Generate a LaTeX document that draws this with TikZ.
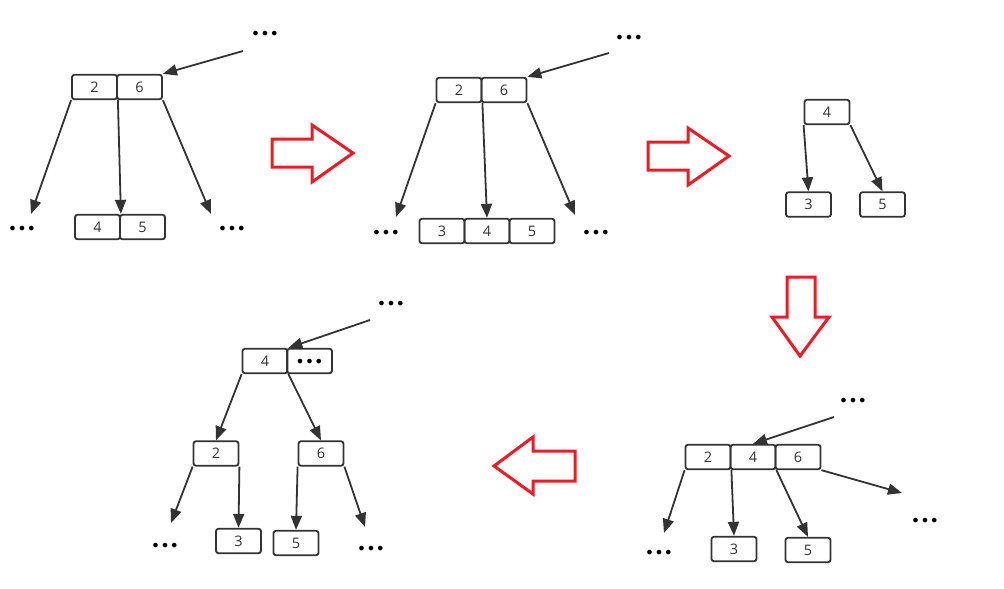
\documentclass[tikz,border=0pt]{standalone}
\usepackage{fontspec}
\setmainfont{Open Sans}
\newfontfamily\dotfont{DejaVu Sans}
\usepackage{tikz}
\usetikzlibrary{arrows.meta}
\definecolor{ink}{HTML}{333333}
\definecolor{bigred}{HTML}{ED1C24}
\newcommand{\etcdots}{{\fontsize{16}{16}\dotfont •••}}
\tikzset{
  key/.style={draw=ink, line width=1.8pt, rounded corners=2.5pt, minimum width=45pt,
    minimum height=24.5pt, inner sep=0pt, text=ink, font=\fontsize{14.5}{16}\selectfont},
  etc/.style={inner sep=0pt, yshift=-2.5pt},
  ptr/.style={draw=ink, line width=1.8pt, -{Triangle[length=14pt,width=11pt]}},
  turn/.style={draw=bigred, line width=3pt, line join=miter}
}

\begin{document}
\begin{tikzpicture}[x=1pt, y=-1pt]
    \useasboundingbox (0,0) rectangle (1004,589);
    % Step 1: node 2|6 with child 4|5
    \node[key] (a2) at (94.5,87) {2};
    \node[key] (a6) at (139.5,87) {6};
    \node[key] (a4) at (97.5,227) {4};
    \node[key] (a5) at (142.5,227) {5};
    \node[etc] (at) at (265,33) {\etcdots};
    \node[etc] (al) at (22,228) {\etcdots};
    \node[etc] (ar) at (232,228) {\etcdots};
    \coordinate (atf) at (243,51);
    \coordinate (alf) at (31,214);
    \coordinate (arf) at (211,214);
    \draw[ptr] (atf) -- (a6.north east);
    \draw[ptr] (a2.south west) -- (alf);
    \draw[ptr] (a2.south east) -- (a4.north east);
    \draw[ptr] (a6.south east) -- (arf);

    % Step 2: insert 3, leaf overflows
    \node[key] (b2) at (459,90) {2};
    \node[key] (b6) at (504,90) {6};
    \node[key] (b3) at (442,231) {3};
    \node[key] (b4) at (487,231) {4};
    \node[key] (b5) at (532,231) {5};
    \node[etc] (bt) at (629,37) {\etcdots};
    \node[etc] (bl) at (386,232) {\etcdots};
    \node[etc] (br) at (596,232) {\etcdots};
    \coordinate (btf) at (609,53);
    \coordinate (blf) at (396,217);
    \coordinate (brf) at (575,215);
    \draw[ptr] (btf) -- (b6.north east);
    \draw[ptr] (b2.south west) -- (blf);
    \draw[ptr] (b2.south east) -- (b4.north);
    \draw[ptr] (b6.south east) -- (brf);

    % Step 3: split
    \node[key] (c4) at (827,112) {4};
    \node[key] (c3) at (808.5,204.5) {3};
    \node[key] (c5) at (882.5,204.5) {5};
    \draw[ptr] (c4.south west) -- (c3.north);
    \draw[ptr] (c4.south east) -- (c5.north);

    % Step 4: 4 goes up into the parent
    \node[key] (d2) at (708,457) {2};
    \node[key] (d4) at (753,457) {4};
    \node[key] (d6) at (798,457) {6};
    \node[key] (d3) at (734,549) {3};
    \node[key] (d5) at (808,550) {5};
    \node[etc] (dt) at (853,400) {\etcdots};
    \node[etc] (dl) at (659,552) {\etcdots};
    \node[etc] (dr) at (925,520) {\etcdots};
    \coordinate (dtf) at (834,417);
    \coordinate (dlf) at (664,533);
    \coordinate (drf) at (902,493);
    \draw[ptr] (dtf) -- (d4.north);
    \draw[ptr] (d2.south west) -- (dlf);
    \draw[ptr] (d2.south east) -- (d3.north);
    \draw[ptr] (d4.south east) -- (d5.north);
    \draw[ptr] (d6.south east) -- (drf);

    % Step 5: parent splits too
    \node[key] (e4) at (265,361) {4};
    \node[key] (ed) at (309.5,361) {};
    \node[etc] (edd) at (ed) {\etcdots};
    \node[key] (e2) at (216,453.5) {2};
    \node[key] (e6) at (321,453.5) {6};
    \node[key] (e3) at (238.5,541) {3};
    \node[key] (e5) at (296,543) {5};
    \node[etc] (et) at (391,303) {\etcdots};
    \node[etc] (el) at (165,545) {\etcdots};
    \node[etc] (er) at (371,548) {\etcdots};
    \coordinate (etf) at (370,320);
    \coordinate (elf) at (171,523);
    \coordinate (erf) at (365,527);
    \draw[ptr] (etf) -- (e4.north east);
    \draw[ptr] (e4.south west) -- (e2.north);
    \draw[ptr] (e4.south east) -- (e6.north);
    \draw[ptr] (e2.south west) -- (elf);
    \draw[ptr] (e2.south east) -- (e3.north);
    \draw[ptr] (e6.south west) -- (e5.north);
    \draw[ptr] (e6.south east) -- (erf);

    % Big hollow arrows between steps
    \draw[turn] (272,139) -- (312,139) -- (312,125) -- (353,153) -- (312,182) -- (312,167) -- (272,167) -- cycle;
    \draw[turn] (648,142) -- (688,142) -- (688,128) -- (729,156) -- (688,185) -- (688,170) -- (648,170) -- cycle;
    \draw[turn] (787,277) -- (815,277) -- (815,317) -- (829,317) -- (800,356) -- (772,317) -- (787,317) -- cycle;
    \draw[turn] (575,451) -- (533,451) -- (533,437) -- (494,466) -- (533,494) -- (533,481) -- (575,481) -- cycle;
\end{tikzpicture}
\end{document}
